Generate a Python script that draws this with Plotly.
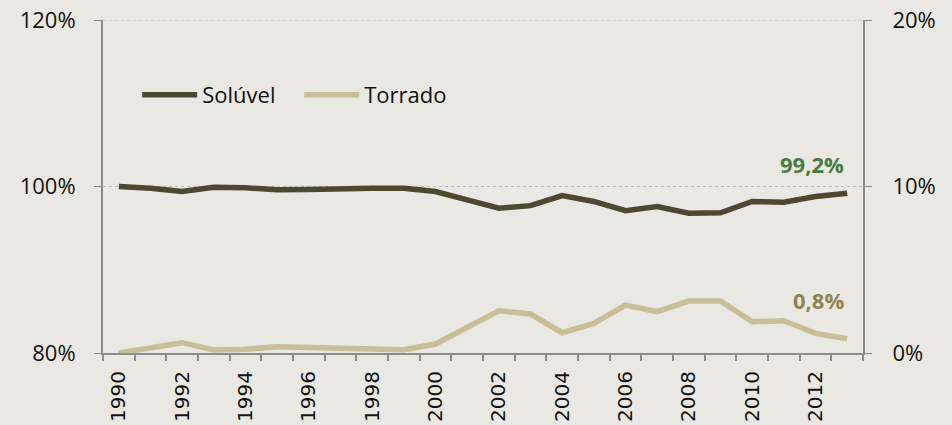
import plotly.graph_objects as go

years = list(range(1990, 2014))
soluvel = [100.0, 99.8, 99.4, 99.9, 99.85, 99.6, 99.65, 99.8, 99.8, 99.8, 99.4, 98.4,
           97.4, 97.7, 98.9, 98.2, 97.1, 97.6, 96.8, 96.85, 98.2, 98.1, 98.8, 99.2]
torrado = [0.0, 0.28, 0.62, 0.18, 0.22, 0.38, 0.34, 0.24, 0.2, 0.2, 0.54, 1.58,
           2.54, 2.34, 1.22, 1.78, 2.88, 2.48, 3.12, 3.12, 1.88, 1.94, 1.18, 0.86]
label_years = [y for y in years if y % 2 == 0]
boundaries = [y - 0.5 for y in years] + [years[-1] + 0.5]
left_ticks = [80, 100, 120]
right_ticks = [0, 10, 20]

BG = "#e9e8e2"
AX = "#8c8c8c"
GRID = "#bdbdbd"
TXT_FONT = "Open Sans, sans-serif"
XRANGE = [years[0] - 0.5, years[-1] + 0.5]

fig = go.Figure()
fig.add_trace(go.Scatter(x=years, y=soluvel, name="Solúvel", mode="lines",
                         line=dict(color="#4f4830", width=5.5), yaxis="y"))
fig.add_trace(go.Scatter(x=years, y=torrado, name="Torrado", mode="lines",
                         line=dict(color="#c8bf98", width=5.5), yaxis="y2"))
# invisible helper trace so the boundary-tick axis is drawn
fig.add_trace(go.Scatter(x=[years[0]], y=[soluvel[0]], xaxis="x2", yaxis="y",
                         mode="markers", marker=dict(opacity=0), showlegend=False,
                         hoverinfo="skip"))

fig.update_layout(
    width=952, height=425,
    margin=dict(l=103, r=89, t=20, b=72),
    paper_bgcolor=BG, plot_bgcolor=BG,
    font=dict(family=TXT_FONT, size=22, color="#111111"),
    showlegend=True,
    legend=dict(orientation="h", x=0.045, y=0.775, xanchor="left", yanchor="middle",
                bgcolor="rgba(0,0,0,0)", font=dict(size=22, family=TXT_FONT),
                itemwidth=55, entrywidth=92, entrywidthmode="pixels", tracegroupgap=0),
    xaxis=dict(range=XRANGE, tickmode="array", tickvals=label_years, automargin=False,
               ticktext=[str(y) for y in label_years], ticks="", ticklabelstandoff=8,
               tickangle=-90, showline=True, linecolor=AX, linewidth=2,
               showgrid=False, zeroline=False,
               tickfont=dict(family="DejaVu Sans, Verdana, sans-serif",
                             size=20, color="#111")),
    xaxis2=dict(range=XRANGE, overlaying="x", anchor="y", side="bottom", automargin=False,
                tickmode="array", tickvals=boundaries, showticklabels=False,
                ticks="outside", ticklen=7, tickcolor=AX, tickwidth=1.5,
                showline=False, showgrid=False, zeroline=False),
    yaxis=dict(range=[80, 120], tickmode="array", tickvals=left_ticks, automargin=False,
               ticktext=[f"{v}%" for v in left_ticks],
               ticks="outside", ticklen=7, tickcolor=AX, ticklabelstandoff=14,
               showline=True, linecolor=AX, linewidth=2, showgrid=True,
               gridcolor=GRID, griddash="dot", gridwidth=1, zeroline=False,
               tickfont=dict(size=22, family=TXT_FONT)),
    yaxis2=dict(range=[0, 20], tickmode="array", tickvals=right_ticks, automargin=False,
                ticktext=[f"{v}%" for v in right_ticks], overlaying="y",
                side="right", ticks="outside", ticklen=7, tickcolor=AX,
                ticklabelstandoff=16, showline=True, linecolor=AX, linewidth=2,
                showgrid=False, zeroline=False, tickfont=dict(size=22, family=TXT_FONT)),
    shapes=[dict(type="line", xref="paper", yref="y", x0=0, x1=1, y0=120, y1=120,
                 line=dict(color=GRID, width=1, dash="dot"), layer="below")],
    annotations=[
        dict(text="<b>99,2%</b>", xref="paper", yref="y", x=0.933, y=102.7,
             xanchor="center", yanchor="middle",
             showarrow=False, font=dict(size=22, color="#4a7a45", family=TXT_FONT)),
        dict(text="<b>0,8%</b>", xref="paper", yref="y2", x=0.941, y=3.2,
             xanchor="center", yanchor="middle",
             showarrow=False, font=dict(size=22, color="#8e8451", family=TXT_FONT)),
    ],
)

fig.write_html("out.html", config={"displayModeBar": False},
               post_script="document.body.style.margin='0px';")
